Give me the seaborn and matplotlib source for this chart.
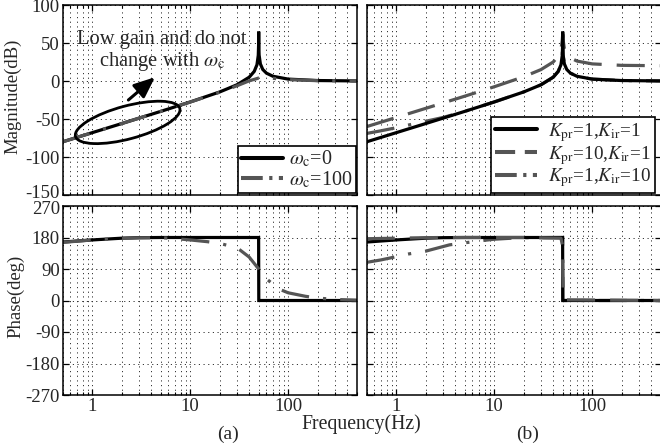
import numpy as np
import matplotlib
matplotlib.use("Agg")
import matplotlib.pyplot as plt
import seaborn as sns
from matplotlib.patches import Ellipse
from matplotlib.lines import Line2D
from matplotlib import transforms
from matplotlib.ticker import FixedLocator, FixedFormatter, NullFormatter, LogLocator

# ---------------- data ----------------
x_ticks = [1, 10, 100]
x_tick_labels = ["1", "10", "100"]
mag_ticks = [-150, -100, -50, 0, 50, 100]
phase_ticks = [-270, -180, -90, 0, 90, 180, 270]

# (a) magnitude
freq_a_wc0 = [0.5, 1, 2, 5, 10, 20, 30, 40, 45, 48, 49.5, 49.9, 50, 50.1, 50.5, 52, 55, 60, 70, 100, 200, 500]
mag_a_wc0 = [-80, -68, -56, -40, -27.6, -14.4, -5, 5, 12.6, 21.4, 33.8, 48, 65, 48, 34, 22.5, 15.2, 10.3, 6.2, 2.5, 0.6, 0.1]
freq_a_wc100 = [0.5, 1, 2, 5, 10, 20, 30, 40, 50, 60, 70, 100, 200, 500]
mag_a_wc100 = [-80, -68, -56, -40, -27.7, -14.8, -6.3, 0.2, 3.9, 4.3, 3.5, 1.8, 0.4, 0.1]

# (a) phase
pfreq_a_wc0 = [0.5, 0.7, 1, 1.5, 2, 3, 5, 20, 49.9, 50.1, 500]
phase_a_wc0 = [167, 170, 173, 176, 178, 179.5, 180, 180, 180, 0, 0]
pfreq_a_wc100 = [0.5, 1, 2, 3, 5, 7, 10, 15, 20, 30, 40, 50, 60, 80, 100, 150, 200, 300, 500]
phase_a_wc100 = [166, 173, 177.5, 179, 179.5, 177, 173, 168, 163, 151, 124, 90, 62, 33, 22, 12, 7, 3, 1]

# (b) magnitude
freq_b_k11 = [0.5, 1, 2, 5, 10, 20, 30, 40, 45, 48, 49.5, 49.9, 50, 50.1, 50.5, 52, 55, 60, 70, 100, 200, 500]
mag_b_k11 = [-80, -68, -56, -40, -27.6, -14.4, -5, 5, 12.6, 21.4, 33.8, 48, 65, 48, 34, 22.5, 15.2, 10.3, 6.2, 2.5, 0.6, 0.1]
freq_b_k101 = [0.5, 1, 2, 5, 10, 20, 30, 40, 45, 48, 49.5, 49.9, 50, 50.1, 50.5, 52, 55, 60, 70, 100, 200, 500]
mag_b_k101 = [-60, -48, -36, -20, -7.6, 5.6, 15, 25, 32.6, 41.4, 53.8, 60, 62, 60, 54, 42.5, 35.2, 30.3, 26.2, 22.5, 20.6, 20.1]
freq_b_k110 = [0.5, 0.7, 1, 1.5, 2, 3, 5, 10, 20, 30, 40, 45, 48, 49.5, 49.9, 50, 50.1, 50.5, 52, 55, 60, 70, 100, 200, 500]
mag_b_k110 = [-69, -65.5, -61.5, -56.5, -53, -48, -40, -27.6, -14.4, -5, 5, 12.6, 21.4, 33.8, 48, 60, 48, 34, 22.5, 15.2, 10.3, 6.2, 2.5, 0.6, 0.1]

# (b) phase
pfreq_b_k11 = [0.5, 0.7, 1, 1.5, 2, 3, 5, 20, 49.9, 50.1, 500]
phase_b_k11 = [167, 170, 173, 176, 178, 179.5, 180, 180, 180, 0, 0]
pfreq_b_k101 = [0.5, 1, 2, 3, 5, 20, 48, 49.5, 50, 50.5, 52, 500]
phase_b_k101 = [176.5, 178, 179.5, 180, 180, 180, 178, 160, 90, 20, 2, 0]
pfreq_b_k110 = [0.5, 0.7, 0.92, 1.34, 2, 3.5, 5.4, 8, 10, 15, 20, 49.9, 50.1, 500]
phase_b_k110 = [109, 116, 123, 133, 141, 159, 166, 172, 175, 178, 179.5, 180, 0, 0]

labels_a = [r"$\omega_{\rm c}$=0", r"$\omega_{\rm c}$=100"]
labels_b = [r"$K_{\rm pr}$=1,$K_{\rm ir}$=1", r"$K_{\rm pr}$=10,$K_{\rm ir}$=1", r"$K_{\rm pr}$=1,$K_{\rm ir}$=10"]

# ---------------- style ----------------
sns.set_style("ticks")
plt.rcParams["font.family"] = ["Liberation Serif", "DejaVu Serif"]
plt.rcParams["mathtext.fontset"] = "stix"
plt.rcParams["axes.unicode_minus"] = False
FS = 13.5

BLACK = "black"
GRAY = "#555555"
LW = 2.3
DASH = (0, (8.8, 4.7))
DASHDOT = (0, (8.8, 4.4, 1.0, 4.4))

fig = plt.figure(figsize=(6.6, 4.47), dpi=100)
W = 294 / 660
axAm = fig.add_axes([62.7 / 660, 252 / 447, W, 190 / 447])
axBm = fig.add_axes([366.7 / 660, 252 / 447, W, 190 / 447])
axAp = fig.add_axes([62.7 / 660, 52 / 447, W, 189 / 447])
axBp = fig.add_axes([366.7 / 660, 52 / 447, W, 189 / 447])

grid_ls = (0, (1.2, 3.6))
for ax in [axAm, axBm, axAp, axBp]:
    ax.set_xscale("log")
    ax.set_xlim(0.5, 500)
    ax.xaxis.set_major_locator(FixedLocator(x_ticks))
    ax.xaxis.set_major_formatter(FixedFormatter(x_tick_labels))
    ax.xaxis.set_minor_locator(LogLocator(base=10, subs=np.arange(2, 10), numticks=20))
    ax.xaxis.set_minor_formatter(NullFormatter())
    ax.set_axisbelow(True)
    ax.grid(True, which="major", axis="both", color="0.2", lw=0.7, linestyle=grid_ls)
    ax.grid(True, which="minor", axis="x", color="0.2", lw=0.7, linestyle=grid_ls)
    ax.tick_params(which="both", direction="in", top=True, right=True, labelsize=FS,
                   pad=2, color="black")
    ax.tick_params(which="major", length=4, width=0.9)
    ax.tick_params(which="minor", length=2.5, width=0.8)
    for s in ax.spines.values():
        s.set_linewidth(1.1)
        s.set_color("black")

for ax in [axAm, axBm]:
    ax.set_ylim(-150, 100)
    ax.yaxis.set_major_locator(FixedLocator(mag_ticks))
    ax.tick_params(axis="x", labelbottom=False)
for ax in [axAp, axBp]:
    ax.set_ylim(-270, 270)
    ax.yaxis.set_major_locator(FixedLocator(phase_ticks))
for ax in [axBm, axBp]:
    ax.tick_params(axis="y", labelleft=False)

def line(ax, x, y, color, ls, z=2):
    sns.lineplot(x=x, y=y, ax=ax, color=color, lw=LW, linestyle=ls, estimator=None,
                 sort=False, legend=False, zorder=z, solid_joinstyle="miter")

# (a)
line(axAm, freq_a_wc0, mag_a_wc0, BLACK, "-")
line(axAm, freq_a_wc100, mag_a_wc100, GRAY, DASHDOT, z=2.5)
line(axAp, pfreq_a_wc0, phase_a_wc0, BLACK, "-")
line(axAp, pfreq_a_wc100, phase_a_wc100, GRAY, DASHDOT, z=2.5)

# (b)
line(axBm, freq_b_k110, mag_b_k110, GRAY, DASHDOT)
line(axBm, freq_b_k101, mag_b_k101, GRAY, DASH)
line(axBm, freq_b_k11, mag_b_k11, BLACK, "-", z=3)
line(axBp, pfreq_b_k110, phase_b_k110, GRAY, DASHDOT)
line(axBp, pfreq_b_k11, phase_b_k11, BLACK, "-", z=2.2)
line(axBp, pfreq_b_k101, phase_b_k101, GRAY, DASH, z=2.4)

# nudge the two crowded edge labels (-150 / 270) apart, as in the reference
fig.canvas.draw()
lab_bottom = axAm.get_yticklabels()[0]
lab_bottom.set_transform(lab_bottom.get_transform() +
                         transforms.ScaledTranslation(0, 3 / 100, fig.dpi_scale_trans))
lab_top = axAp.get_yticklabels()[-1]
lab_top.set_transform(lab_top.get_transform() +
                      transforms.ScaledTranslation(0, -2 / 100, fig.dpi_scale_trans))

# legends
h_solid = Line2D([], [], color=BLACK, lw=LW + 0.6)
h_dash = Line2D([], [], color=GRAY, lw=LW + 0.6, linestyle=(0, (5.0, 2.4)))
h_dd = Line2D([], [], color=GRAY, lw=LW + 0.6, linestyle=(0, (5.4, 1.6, 0.8, 1.6)))

legA = axAm.legend([h_solid, h_dd], labels_a, loc="lower right", bbox_to_anchor=(0.998, 0.009),
                   borderaxespad=0, fontsize=14.5, frameon=True, fancybox=False, framealpha=1,
                   edgecolor="black", handlelength=2.1, handletextpad=0.3, labelspacing=0.0,
                   borderpad=0.15)
legA.get_frame().set_linewidth(1.2)
legB = axBm.legend([h_solid, h_dash, h_dd], labels_b, loc="lower right", bbox_to_anchor=(0.981, 0.009),
                   borderaxespad=0, fontsize=13.8, frameon=True, fancybox=False, framealpha=1,
                   edgecolor="black", handlelength=2.2, handletextpad=0.6, labelspacing=0.0,
                   borderpad=0.2)
legB.get_frame().set_linewidth(1.2)

# annotation in (a)
trans = fig.dpi_scale_trans + transforms.ScaledTranslation(2.30, -54.5, axAm.transData)
ell = Ellipse((0, 0), width=1.08, height=0.33, angle=15, transform=trans, fill=False,
              edgecolor="black", lw=2.0, zorder=4)
axAm.add_patch(ell)
axAm.annotate("", xy=(4.37, 5), xytext=(2.34, -25),
              arrowprops=dict(arrowstyle="-|>,head_length=0.9,head_width=0.38", lw=2.2,
                              color="black", shrinkA=0, shrinkB=0, mutation_scale=14), zorder=4)
axAm.text(5.16, 38.8, "Low gain and do not\nchange with $\\omega_{\\rm c}$", ha="center",
          va="center", fontsize=14.8, linespacing=1.1, zorder=4)

# labels
fig.text(13 / 660, 1 - 96 / 447, "Magnitude(dB)", rotation=90, ha="center", va="center", fontsize=FS)
fig.text(16 / 660, 1 - 296 / 447, "Phase(deg)", rotation=90, ha="center", va="center", fontsize=FS)
fig.text(361 / 660, 1 - 424 / 447, "Frequency(Hz)", ha="center", va="center", fontsize=14.2)
fig.text(228 / 660, 1 - 434 / 447, "(a)", ha="center", va="center", fontsize=14)
fig.text(527.5 / 660, 1 - 434 / 447, "(b)", ha="center", va="center", fontsize=14)

fig.savefig("out.png", dpi=100)
